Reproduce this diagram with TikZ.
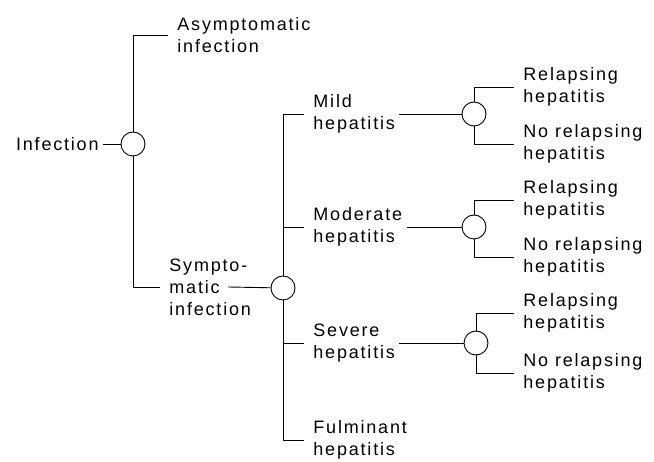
\documentclass[tikz,border=0pt]{standalone}
\usepackage{fontspec}
\setmainfont[LetterSpace=10]{Liberation Sans}
\begin{document}
\begin{tikzpicture}[x=1pt,y=-1pt,line width=0.9pt,
  leaf/.style={font=\fontsize{18}{22}\selectfont,align=left,inner xsep=4pt,inner ysep=0pt},
  chance/.style={draw,circle,fill=white,minimum size=24pt,inner sep=0pt},
  branch/.style={shorten >=5pt}]
\useasboundingbox (0,0) rectangle (654,462);
% chance nodes
\node[chance] (c1) at (133,144) {};
\node[chance] (c2) at (283,288) {};
\node[chance] (c3) at (474,114) {};
\node[chance] (c4) at (474,227) {};
\node[chance] (c5) at (476,343) {};
% outcomes
\node[leaf,anchor=east] (inf) at (103,144) {Infection};
\node[leaf,anchor=west] (asym) at (173,35) {Asymptomatic\\infection};
\node[leaf,anchor=west] (sym) at (165,287) {Sympto-\\matic\\infection};
\node[leaf,anchor=west] (mild) at (309,114) {Mild\\hepatitis};
\node[leaf,anchor=west] (mod) at (309,227) {Moderate\\hepatitis};
\node[leaf,anchor=west] (sev) at (309,343) {Severe\\hepatitis};
\node[leaf,anchor=west] (fulm) at (309,440) {Fulminant\\hepatitis};
\node[leaf,anchor=west] (rel3) at (519,87) {Relapsing\\hepatitis};
\node[leaf,anchor=west] (norel3) at (519,144) {No relapsing\\hepatitis};
\node[leaf,anchor=west] (rel4) at (519,200) {Relapsing\\hepatitis};
\node[leaf,anchor=west] (norel4) at (519,257) {No relapsing\\hepatitis};
\node[leaf,anchor=west] (rel5) at (519,313) {Relapsing\\hepatitis};
\node[leaf,anchor=west] (norel5) at (519,373) {No relapsing\\hepatitis};
% branches
\draw (inf) -- (c1);
\draw[branch] (c1.north) |- (asym.west);
\draw[branch] (c1.south) |- (sym.west);
\coordinate (symout) at ([xshift=63pt]sym.west);
\draw (symout) -- (c2);
\draw[branch] (c2.north) |- (mild.west);
\draw[branch] (c2.north) |- (mod.west);
\draw[branch] (c2.south) |- (sev.west);
\draw[branch] (c2.south) |- (fulm.west);
\draw (mild) -- (c3);
\draw (mod) -- (c4);
\draw (sev) -- (c5);
\foreach \i in {3,4,5} {
  \draw[branch] (c\i.north) |- (rel\i.west);
  \draw[branch] (c\i.south) |- (norel\i.west);
}
\end{tikzpicture}
\end{document}
